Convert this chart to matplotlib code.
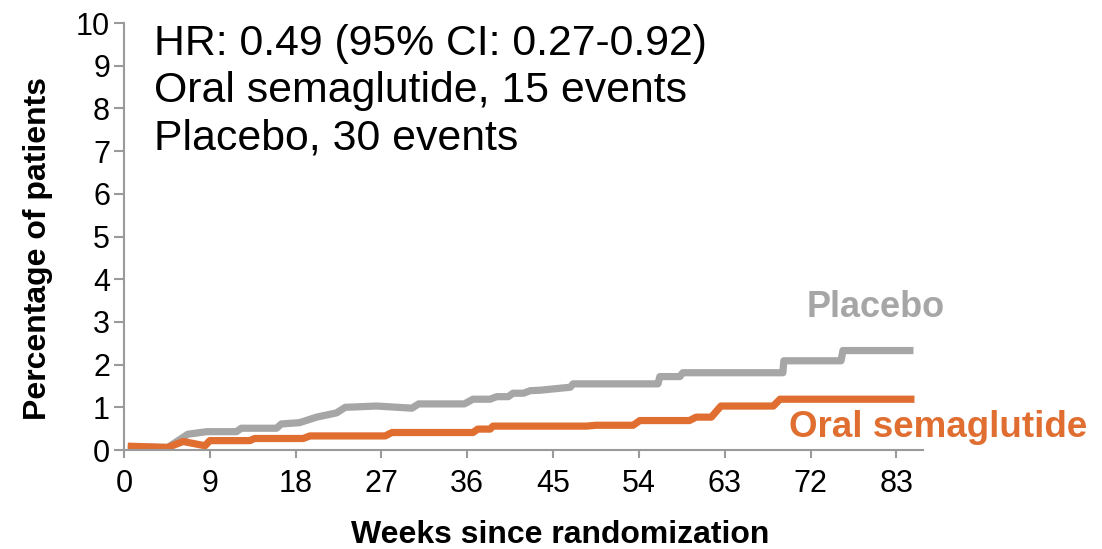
import matplotlib
matplotlib.use("Agg")
import matplotlib.pyplot as plt

# cumulative incidence (%) by week, read as step/segment points
placebo_weeks = [0.4, 4.6, 6.7, 8.7, 11.8, 12.3, 16.0, 16.5, 18.4, 20.2, 22.3, 23.2, 26.5, 30.2, 30.9,
                 35.7, 36.6, 38.4, 39.1, 40.3, 40.8, 41.9, 42.6, 43.6, 46.8, 47.1, 56.0, 56.2, 58.3,
                 58.6, 69.1, 69.2, 75.2, 75.4, 82.8]
placebo_pct = [0.07, 0.06, 0.37, 0.43, 0.43, 0.51, 0.51, 0.61, 0.64, 0.77, 0.87, 1.00, 1.03, 0.98, 1.08,
               1.08, 1.19, 1.19, 1.25, 1.25, 1.33, 1.33, 1.39, 1.40, 1.47, 1.55, 1.55, 1.72, 1.72,
               1.81, 1.81, 2.09, 2.09, 2.33, 2.33]

sema_weeks = [0.4, 4.6, 6.2, 8.5, 9.0, 13.2, 13.7, 18.8, 19.5, 27.4, 28.1, 36.6, 37.1, 38.4, 38.7,
              48.5, 49.5, 53.4, 54.1, 59.3, 60.0, 61.6, 62.6, 68.1, 68.8, 82.9]
sema_pct = [0.09, 0.06, 0.20, 0.10, 0.22, 0.22, 0.27, 0.27, 0.33, 0.33, 0.41, 0.41, 0.49, 0.49, 0.56,
            0.56, 0.58, 0.58, 0.69, 0.69, 0.77, 0.77, 1.03, 1.03, 1.19, 1.19]

tick_pos = [0, 9, 18, 27, 36, 45, 54, 63, 72, 81]
tick_labels = ["0", "9", "18", "27", "36", "45", "54", "63", "72", "83"]

gray = "#A6A6A6"
orange = "#E06E30"
axis_gray = "#9A9A9A"

plt.rcParams["font.family"] = ["Liberation Sans", "DejaVu Sans"]

fig = plt.figure(figsize=(11.02, 5.49), dpi=100)
ax = fig.add_axes([0.1125, 0.1803, 0.7251, 0.7777])

ax.plot(placebo_weeks, placebo_pct, color=gray, lw=5.2, solid_capstyle="butt", solid_joinstyle="round")
ax.plot(sema_weeks, sema_pct, color=orange, lw=5.2, solid_capstyle="butt", solid_joinstyle="round")

ax.set_xlim(0, 83.8)
ax.set_ylim(0, 10)
ax.set_yticks(range(0, 11))
ax.set_xticks(tick_pos)
ax.set_xticklabels(tick_labels)

for side in ["top", "right"]:
    ax.spines[side].set_visible(False)
for side in ["left", "bottom"]:
    ax.spines[side].set_color(axis_gray)
    ax.spines[side].set_linewidth(1.5)
ax.tick_params(axis="y", length=7, width=1.5, color=axis_gray, labelsize=22, pad=3)
ax.tick_params(axis="x", length=6, width=1.5, color=axis_gray, labelsize=22, pad=8)

ax.set_ylabel("Percentage of patients", fontsize=23, fontweight="bold", va="center")
ax.yaxis.set_label_coords(-0.108, 0.471)
ax.set_xlabel("Weeks since randomization", fontsize=23, fontweight="bold", va="center")
ax.xaxis.set_label_coords(0.546, -0.199)

ax.text(3.2, 9.98, "HR: 0.49 (95% CI: 0.27-0.92)\nOral semaglutide, 15 events\nPlacebo, 30 events",
        fontsize=30.8, va="top", ha="left", linespacing=1.24)

ax.text(78.8, 3.33, "Placebo", color=gray, fontsize=26, fontweight="bold", ha="center", va="center",
        clip_on=False)
ax.text(85.4, 0.52, "Oral semaglutide", color=orange, fontsize=26.5, fontweight="bold", ha="center",
        va="center", clip_on=False)

fig.savefig("out.png", dpi=100)
